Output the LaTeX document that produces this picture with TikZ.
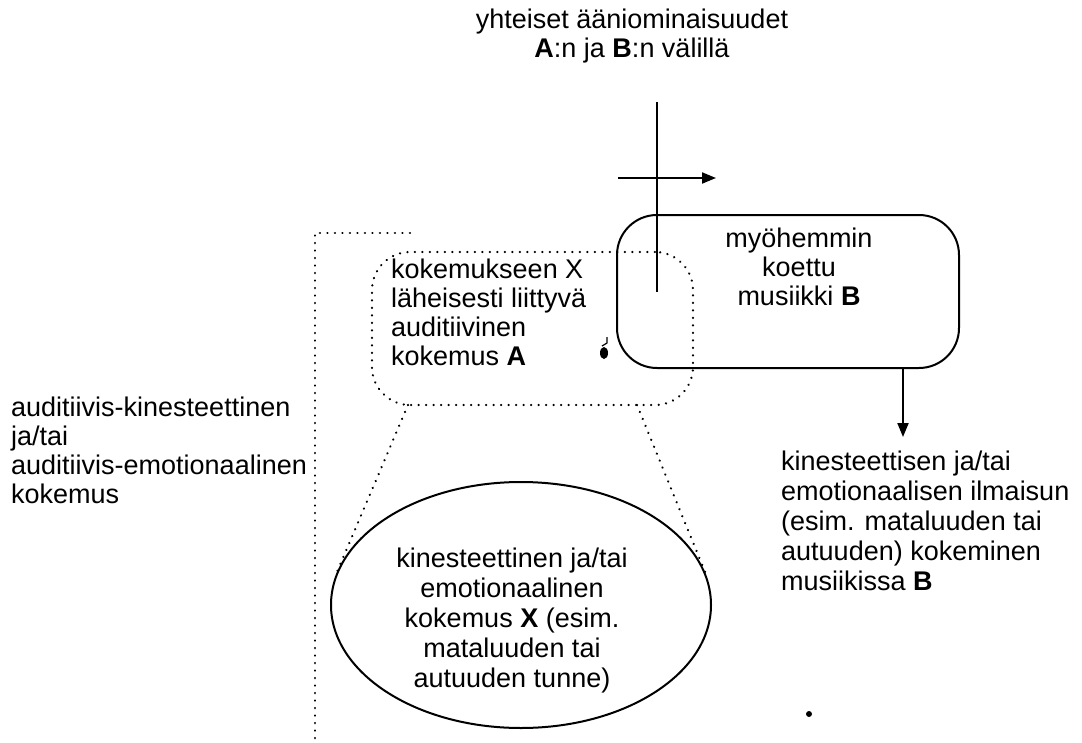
\documentclass[tikz,border=0pt]{standalone}
\usepackage{fontspec}
\setmainfont{Liberation Sans}
\usetikzlibrary{shapes.geometric,arrows.meta}
\begin{document}
\begin{tikzpicture}[x=1pt,y=-1pt,
  txt/.style={font=\fontsize{27}{29}\selectfont, inner sep=0pt},
  widetxt/.style={font=\fontsize{27}{30}\selectfont, inner sep=0pt},
  solidline/.style={line width=2pt},
  dotline/.style={line width=2.4pt, dash pattern=on 0.1pt off 7.4pt, line cap=round},
  arr/.style={solidline, -{Triangle[length=14pt,width=11pt]}}]
\useasboundingbox (0,0) rectangle (1082,742);

% later heard music B
\node[draw, solidline, rounded corners=40pt, minimum width=342pt, minimum height=153pt] (musicB) at (788,291.5) {};
\node[txt, align=center] (musicBtxt) at (799,267) {myöhemmin\\koettu\\musiikki \textbf{B}};

% auditory experience A
\node[draw, dotline, rounded corners=38pt, minimum width=321pt, minimum height=153pt] (soundA) at (532.5,328.5) {};
\node[txt, align=left, anchor=west] (soundAtxt) at (391,312) {kokemukseen X\\läheisesti liittyvä\\auditiivinen\\kokemus \textbf{A}};

% experience X
\node[draw, solidline, ellipse, minimum width=380pt, minimum height=246pt, inner sep=0pt] (expX) at (521,605) {};
\node[widetxt, align=center] (expXtxt) at (512,621) {kinesteettinen ja/tai\\emotionaalinen\\kokemus \textbf{X} (esim.\\mataluuden tai\\autuuden tunne)};

% free labels
\node[txt, align=left, anchor=west] (leftTxt) at (11,450) {auditiivis-kinesteettinen\\ja/tai\\auditiivis-emotionaalinen\\kokemus};
\node[widetxt, align=left, anchor=west] (rightTxt) at (781,521) {kinesteettisen ja/tai\\emotionaalisen ilmaisun\\(esim. mataluuden tai\\autuuden) kokeminen\\musiikissa \textbf{B}};
\node[txt, align=center] (topTxt) at (632,36) {yhteiset ääniominaisuudet\\\textbf{A}:n ja \textbf{B}:n välillä};

% dotted bracket on the left
\coordinate (brTop) at (410,233);
\coordinate (brCorner) at (315,233);
\coordinate (brBot) at (315,742);
\draw[dotline] (brTop) -- (brCorner) -- (brBot);

% funnel from A down to X
\coordinate (fL) at (408,405);
\coordinate (fR) at (637,405);
\draw[dotline] (fL) -- (expX.171);
\draw[dotline] (fR) -- (expX.9);

% shared sound features: crossing lines
\coordinate (vTop) at (657,102);
\coordinate (vBot) at (657,292);
\draw[solidline] (vTop) -- (vBot);
\coordinate (hL) at (618,178);
\coordinate (hR) at (716,178);
\draw[arr] (hL) -- (hR);

% from B to the experience in music B
\coordinate (dTop) at (903,368);
\coordinate (dBot) at (903,437);
\draw[arr] (dTop) -- (dBot);

% small marks
\fill (604,353) ellipse (4pt and 6pt);
\draw[line width=1.2pt] (602,346) -- (607,343) -- (607,337);
\fill (809,714) circle (3pt);
\end{tikzpicture}
\end{document}
